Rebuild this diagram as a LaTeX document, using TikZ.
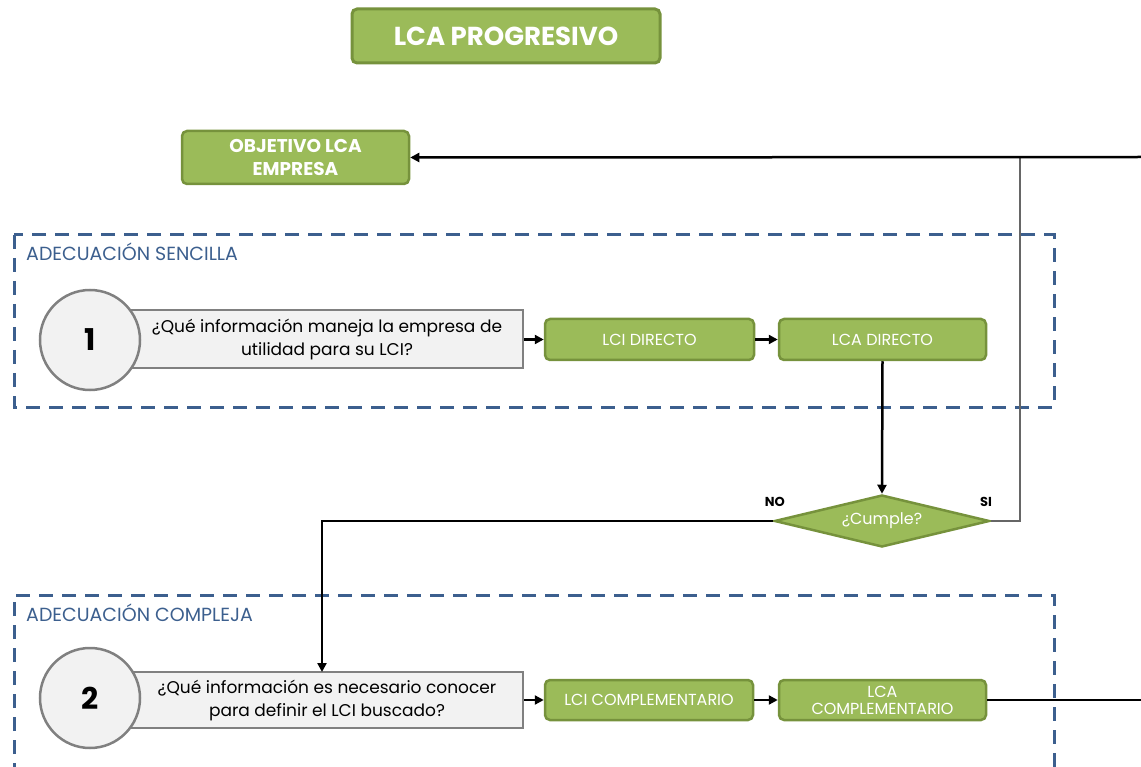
\documentclass[tikz,border=0pt]{standalone}
\usepackage{fontspec}
\setmainfont{Poppins}
\usetikzlibrary{shapes.geometric,arrows.meta}
\definecolor{gfill}{HTML}{9BBB59}
\definecolor{gborder}{HTML}{76923C}
\definecolor{qfill}{HTML}{F2F2F2}
\definecolor{qborder}{HTML}{808080}
\definecolor{zblue}{HTML}{3C5F8E}
\begin{document}
\begin{tikzpicture}[x=1pt,y=-1pt,
  greenbox/.style={draw=gborder, fill=gfill, line width=2.5pt, rounded corners=5pt,
    text=white, align=center, inner sep=0pt, font=\fontsize{16}{18}\selectfont},
  qbox/.style={draw=qborder, fill=qfill, line width=2pt, align=center, inner sep=0pt,
    font=\fontsize{17}{23}\selectfont},
  numcircle/.style={circle, draw=qborder, fill=qfill, line width=2.5pt, minimum size=100pt,
    inner sep=0pt, font=\bfseries\fontsize{30}{34}\selectfont},
  zone/.style={draw=zblue, dash pattern=on 14pt off 9pt, line width=3pt},
  zonelabel/.style={anchor=west, text=zblue, inner sep=0pt, font=\fontsize{19}{22}\selectfont},
  flow/.style={line width=2.5pt, -{Triangle[length=9pt,width=9pt]}},
  plainline/.style={line width=2.5pt},
  yesline/.style={draw=qborder!80!black, line width=2pt},
  answer/.style={inner sep=0pt, font=\bfseries\fontsize{13}{15}\selectfont}
]
\useasboundingbox (0,0) rectangle (1141,767);

% stage frames
\draw[zone] (14,235) rectangle (1054,407);
\draw[zone] (14,800) -- (14,595) -- (1054,595) -- (1054,800);
\node[zonelabel] (zs) at (26,252) {ADECUACIÓN SENCILLA};
\node[zonelabel] (zc) at (26,613) {ADECUACIÓN COMPLEJA};

% title and goal
\node[greenbox, line width=3pt, minimum width=308pt, minimum height=54pt,
  font=\bfseries\fontsize{26}{30}\selectfont] (title) at (506,36) {LCA PROGRESIVO};
\node[greenbox, minimum width=227pt, minimum height=53pt,
  font=\bfseries\fontsize{18.5}{23}\selectfont] (obj) at (295.5,157.5) {OBJETIVO LCA\\EMPRESA};

% simple adaptation
\node[qbox, minimum width=392pt, minimum height=58pt] (q1) at (327,339.5)
  {¿Qué información maneja la empresa de\\utilidad para su LCI?};
\node[numcircle] (c1) at (90,340) {1};
\node[greenbox, minimum width=209pt, minimum height=41pt] (lci1) at (649.5,339.5) {LCI DIRECTO};
\node[greenbox, minimum width=207pt, minimum height=41pt] (lca1) at (882.5,339.5) {LCA DIRECTO};

% decision
\node[diamond, draw=gborder, fill=gfill, line width=2.5pt, inner sep=0pt, aspect=4.1,
  minimum width=215pt, minimum height=52pt, text=white,
  font=\fontsize{16}{18}\selectfont] (cumple) at (882,521) {¿Cumple?};
\node[answer, anchor=east] (no) at (785,502) {NO};
\node[answer, anchor=west] (si) at (980,502) {SI};

% complex adaptation
\node[qbox, minimum width=392pt, minimum height=56pt] (q2) at (327,700)
  {¿Qué información es necesario conocer\\para definir el LCI buscado?};
\node[numcircle] (c2) at (90,698) {2};
\node[greenbox, minimum width=208pt, minimum height=40pt] (lci2) at (649,700) {LCI COMPLEMENTARIO};
\node[greenbox, minimum width=207pt, minimum height=40pt, font=\fontsize{16}{17}\selectfont]
  (lca2) at (882.5,700) {LCA\\COMPLEMENTARIO};

% connector end points
\coordinate (feedR) at (1141,157);
\coordinate (feedJ) at (1020,157);
\coordinate (noDrop) at (322,521);
\coordinate (noEnd) at (322,672);
\coordinate (outR) at (1141,700);

% connectors
\draw[yesline] (cumple.east) -| (feedJ);
\draw[flow] (feedR) -- (obj.east);
\draw[flow] (q1.east) -- (lci1.west);
\draw[flow] (lci1.east) -- (lca1.west);
\draw[flow] (lca1.south) -- (cumple.north);
\draw[flow] (cumple.west) -- (noDrop) -- (noEnd);
\draw[flow] (q2.east) -- (lci2.west);
\draw[flow] (lci2.east) -- (lca2.west);
\draw[plainline] (lca2.east) -- (outR);
\end{tikzpicture}
\end{document}
